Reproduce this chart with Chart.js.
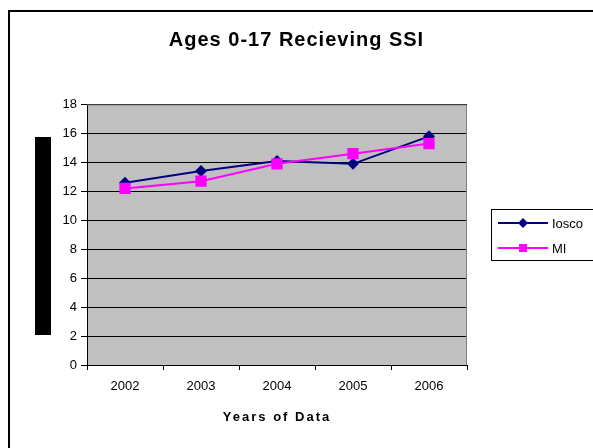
<!DOCTYPE html>
<html>
<head>
<meta charset="utf-8">
<script src="https://cdn.jsdelivr.net/npm/chart.js@4/dist/chart.umd.min.js"></script>
<style>
  html, body { margin: 0; padding: 0; background: #fff; }
  #wrap { width: 593px; height: 448px; }
</style>
</head>
<body>
<div id="wrap"><canvas id="chart"></canvas></div>
<script>
// data
const years = ['2002', '2003', '2004', '2005', '2006'];
const ioscoValues = [12.6, 13.4, 14.1, 13.9, 15.8];
const miValues = [12.2, 12.7, 13.9, 14.6, 15.3];
const seriesNames = ['Iosco', 'MI'];
const yMin = 0, yMax = 18, yStep = 2;

const FONT = '"Liberation Sans", Arial, sans-serif';

// letter spacing on one drawing method (Excel spreads its text a bit)
function spaced(obj, method, spacing) {
    if (obj['_orig_' + method]) return;
    const orig = obj[method];
    obj['_orig_' + method] = orig;
    obj[method] = function() {
        const ctx = this.ctx;
        const prev = ctx.letterSpacing;
        ctx.letterSpacing = spacing;
        orig.apply(this, arguments);
        ctx.letterSpacing = prev || '0px';
    };
}

// frame, gray plot area, the black block on the left
const backdrop = {
    id: 'backdrop',
    afterLayout(chart) {
        // title centred on the whole frame, not only left of the legend
        if (chart.titleBlock) {
            chart.titleBlock.left = 0;
            chart.titleBlock.right = chart.width;
            chart.titleBlock.width = chart.width;
        }
    },
    beforeDraw(chart) {
        const ctx = chart.ctx;
        const a = chart.chartArea;
        ctx.save();
        ctx.fillStyle = '#fff';
        ctx.fillRect(0, 0, chart.width, chart.height);
        ctx.strokeStyle = '#000';
        ctx.lineWidth = 2;
        ctx.strokeRect(9, 11, chart.width + 20, chart.height + 20);
        ctx.fillStyle = '#c0c0c0';
        ctx.fillRect(a.left, a.top, a.right - a.left, a.bottom - a.top);
        ctx.fillStyle = '#000';
        ctx.fillRect(35, 137, 16, 198);
        ctx.restore();

        if (chart.titleBlock) spaced(chart.titleBlock, 'draw', '1px');
        spaced(chart.scales.x, 'drawTitle', '2px');
    },
    afterDraw(chart) {
        const ctx = chart.ctx;
        const a = chart.chartArea;
        ctx.save();
        // plot border top / right
        ctx.strokeStyle = '#808080';
        ctx.lineWidth = 1;
        ctx.beginPath();
        ctx.moveTo(a.left, a.top + 0.5);
        ctx.lineTo(a.right - 0.5, a.top + 0.5);
        ctx.lineTo(a.right - 0.5, a.bottom);
        ctx.stroke();

        // legend box like Excel
        const box = { x: 491, y: 209, w: 120, h: 51 };
        ctx.strokeStyle = '#000';
        ctx.strokeRect(box.x + 0.5, box.y + 0.5, box.w, box.h);
        chart.data.datasets.forEach((ds, i) => {
            const y = 223 + i * 25;
            ctx.strokeStyle = ds.borderColor;
            ctx.lineWidth = 2;
            ctx.beginPath();
            ctx.moveTo(498, y);
            ctx.lineTo(548, y);
            ctx.stroke();
            ctx.fillStyle = ds.backgroundColor;
            const cx = 523;
            if (ds.pointStyle === 'rectRot') {
                const r = 5;
                ctx.beginPath();
                ctx.moveTo(cx - r, y);
                ctx.lineTo(cx, y - r);
                ctx.lineTo(cx + r, y);
                ctx.lineTo(cx, y + r);
                ctx.closePath();
                ctx.fill();
            } else {
                ctx.fillRect(cx - 4, y - 4, 8, 8);
            }
            ctx.fillStyle = '#000';
            ctx.font = '13px ' + FONT;
            ctx.textBaseline = 'middle';
            ctx.textAlign = 'left';
            ctx.fillText(ds.label, 552, y + 1);
        });
        ctx.restore();
    }
};

new Chart(document.getElementById('chart'), {
    type: 'line',
    data: {
        labels: years,
        datasets: [{
            label: seriesNames[0],
            data: ioscoValues,
            borderColor: '#000080',
            backgroundColor: '#000080',
            borderWidth: 2,
            pointStyle: 'rectRot',
            pointRadius: 6,
            pointBorderWidth: 0,
            tension: 0,
            order: 2
        }, {
            label: seriesNames[1],
            data: miValues,
            borderColor: '#ff00ff',
            backgroundColor: '#ff00ff',
            borderWidth: 2,
            pointStyle: 'rect',
            pointRadius: 8,
            pointBorderWidth: 0,
            tension: 0,
            order: 1
        }]
    },
    options: {
        responsive: true,
        maintainAspectRatio: false,
        animation: false,
        devicePixelRatio: 1,
        layout: { padding: { left: 0, right: 126, top: 0, bottom: 0 } },
        plugins: {
            legend: { display: false },
            tooltip: { enabled: false },
            title: {
                display: true,
                text: 'Ages 0-17 Recieving SSI',
                color: '#000',
                font: { family: FONT, size: 20, weight: 'bold' },
                padding: { top: 28, bottom: 52.5 }
            }
        },
        scales: {
            x: {
                offset: true,
                grid: {
                    offset: true,
                    drawOnChartArea: false,
                    drawTicks: true,
                    tickLength: 5,
                    color: '#000'
                },
                border: { color: '#000', width: 1 },
                ticks: {
                    color: '#000',
                    padding: 9,
                    font: { family: FONT, size: 13 }
                },
                title: {
                    display: true,
                    text: 'Years of Data',
                    color: '#000',
                    font: { family: FONT, size: 13, weight: 'bold' },
                    padding: { top: 0, bottom: 23 }
                },
                afterFit(scale) { scale.height = 83; }
            },
            y: {
                min: yMin,
                max: yMax,
                grid: {
                    color: '#000',
                    lineWidth: 1,
                    drawTicks: true,
                    tickLength: 6
                },
                border: { color: '#000', width: 1 },
                ticks: {
                    stepSize: yStep,
                    color: '#000',
                    padding: 4,
                    font: { family: FONT, size: 13 }
                },
                afterFit(scale) { scale.width = 87; }
            }
        }
    },
    plugins: [backdrop]
});
</script>
</body>
</html>
